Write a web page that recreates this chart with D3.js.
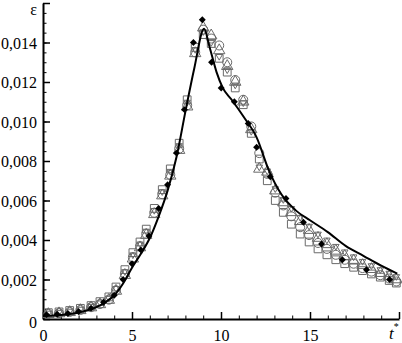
<!DOCTYPE html>
<html><head><meta charset="utf-8">
<script src="https://cdn.jsdelivr.net/npm/d3@7"></script>
<style>body{margin:0;background:#fff}svg{display:block}svg text{font-family:"Liberation Serif","Times New Roman","DejaVu Serif",serif}</style>
</head><body>
<svg id="c" width="402" height="343"></svg>
<script>
const xTicks = [0, 5, 10, 15];
const yTicks = [0, 0.002, 0.004, 0.006, 0.008, 0.010, 0.012, 0.014];
const yTickLabels = ["0", "0,002", "0,004", "0,006", "0,008", "0,010", "0,012", "0,014"];

const lineT = [0, 1, 2, 3, 3.5, 4, 4.5, 5, 5.5, 6, 6.5, 7, 7.5, 8, 8.5, 9.05, 9.35, 9.75, 10.1, 10.6, 11.3, 12.0, 12.7, 13.4, 14.2, 15.0, 16.0, 17.0, 18.0, 19.0, 19.9];
const lineE = [0.00015, 0.0002, 0.00033, 0.0006, 0.00085, 0.0012, 0.0018, 0.0026, 0.0033, 0.0041, 0.0052, 0.0065, 0.0082, 0.0105, 0.0127, 0.0147, 0.0138, 0.0125, 0.0117, 0.0111, 0.0102, 0.0092, 0.0075, 0.0063, 0.0055, 0.0050, 0.0044, 0.0037, 0.0032, 0.0027, 0.0023];

const diamondT = [0.2, 0.8, 1.4, 2.0, 2.7, 3.4, 4.0, 4.5, 5.0, 5.5, 5.95, 6.5, 7.0, 7.5, 7.95, 8.45, 8.95, 9.47, 10.01, 10.75, 11.53, 12.0, 12.77, 13.65, 14.63, 15.65, 16.82, 18.17, 19.47];
const diamondE = [0.00022, 0.00024, 0.00028, 0.00038, 0.00055, 0.00085, 0.0012, 0.0020, 0.0028, 0.0035, 0.0042, 0.0056, 0.0068, 0.0084, 0.0106, 0.0140, 0.01515, 0.0130, 0.0117, 0.0110, 0.0099, 0.0087, 0.0072, 0.0061, 0.0049, 0.0038, 0.0030, 0.0025, 0.0020];

const hollowT = [0.3, 0.9, 1.5, 2.1, 2.7, 3.2, 3.7, 4.1, 4.6, 5.05, 5.45, 5.8, 6.25, 6.7, 7.15, 7.65, 8.1, 8.55, 9.0, 9.45, 9.9, 10.35, 10.8, 11.25, 11.7, 12.15, 12.6, 13.05, 13.5, 13.95, 14.45, 14.95, 15.45, 15.95, 16.45, 16.95, 17.45, 17.95, 18.45, 18.95, 19.45, 19.85];
const circleE = [0.00026,0.00030,0.00036,0.00046,0.00060,0.00076,0.00098,0.00145,0.00228,0.00312,0.00368,0.00432,0.00538,0.00632,0.00730,0.00862,0.01082,0.01350,0.01465,0.01420,0.01385,0.01300,0.01210,0.01110,0.00975,0.00840,0.00735,0.00640,0.00575,0.00520,0.00465,0.00425,0.00385,0.00355,0.00325,0.00300,0.00280,0.00258,0.00240,0.00222,0.00205,0.00190];
const squareE = [0.00032,0.00036,0.00043,0.00054,0.00068,0.00088,0.00112,0.00162,0.00250,0.00336,0.00390,0.00455,0.00560,0.00655,0.00760,0.00890,0.01110,0.01375,0.01440,0.01395,0.01320,0.01250,0.01170,0.01085,0.00940,0.00810,0.00700,0.00600,0.00540,0.00480,0.00430,0.00390,0.00355,0.00325,0.00300,0.00280,0.00262,0.00245,0.00228,0.00212,0.00195,0.00182];
const triUpE = [0.00024,0.00028,0.00034,0.00044,0.00058,0.00074,0.00096,0.00142,0.00222,0.00305,0.00362,0.00425,0.00530,0.00625,0.00725,0.00855,0.01075,0.01345,0.01475,0.01435,0.01360,0.01280,0.01200,0.01100,0.00960,0.00760,0.00745,0.00650,0.00590,0.00540,0.00495,0.00450,0.00410,0.00378,0.00345,0.00318,0.00295,0.00272,0.00252,0.00232,0.00215,0.00200];
const triDownE = [0.00030,0.00034,0.00040,0.00050,0.00064,0.00082,0.00105,0.00155,0.00240,0.00325,0.00380,0.00445,0.00550,0.00645,0.00748,0.00878,0.01098,0.01365,0.01455,0.01400,0.01330,0.01262,0.01185,0.01095,0.00950,0.00770,0.00750,0.00660,0.00605,0.00560,0.00515,0.00470,0.00430,0.00400,0.00368,0.00340,0.00315,0.00292,0.00270,0.00250,0.00232,0.00215];

const svg = d3.select("#c");
const x = d3.scaleLinear().domain([0, 20]).range([43, 399]);
const y = d3.scaleLinear().domain([0, 0.016]).range([319, 3]);
const font = '"Liberation Serif","Times New Roman","DejaVu Serif",serif';

// minor ticks
svg.append("g").attr("transform", "translate(0,319)")
  .call(d3.axisBottom(x).tickValues(d3.range(0, 21, 1)).tickFormat("").tickSize(-3.5))
  .call(g => g.select(".domain").remove());
svg.append("g").attr("transform", "translate(43,0)")
  .call(d3.axisLeft(y).tickValues(d3.range(0, 0.01601, 0.0005)).tickFormat("").tickSize(-3.5))
  .call(g => g.select(".domain").remove());

// major
const xa = svg.append("g").attr("transform", "translate(0,319)")
  .call(d3.axisBottom(x).tickValues(xTicks.concat([20])).tickFormat(d => xTicks.includes(d) ? d : "").tickSize(-7).tickSizeOuter(0).tickPadding(11));
const ya = svg.append("g").attr("transform", "translate(43,0)")
  .call(d3.axisLeft(y).tickValues(yTicks.concat([0.016])).tickFormat(d => { const i = yTicks.indexOf(d); return i >= 0 ? yTickLabels[i] : ""; }).tickSize(-7).tickSizeOuter(0).tickPadding(6));
[xa, ya].forEach(g => {
  g.attr("font-family", null);
  g.select(".domain").attr("stroke-width", 2).attr("stroke", "#000");
  g.selectAll(".tick line").attr("stroke-width", 1.5);
  g.selectAll("text").style("font-family", font).attr("font-size", 16).attr("fill", "#000");
});
ya.selectAll("text").attr("dy", "0.35em");
ya.select(".tick text").attr("dy", "0.5em");
svg.selectAll("g .tick line").attr("stroke", "#000");

// hollow markers
const gray = "#6a6a6a";
function hollow(vals, type, size) {
  const sym = d3.symbol().type(type).size(size);
  svg.append("g").selectAll("path").data(hollowT.map((t, i) => [t, vals[i]])).join("path")
    .attr("transform", d => `translate(${x(d[0])},${y(d[1])})`)
    .attr("d", sym).attr("fill", "none").attr("stroke", gray).attr("stroke-width", 1);
}
hollow(squareE, d3.symbolSquare, 60);
hollow(circleE, d3.symbolCircle, 64);
hollow(triUpE, d3.symbolTriangle, 56);
const triDown = {draw(ctx, size) { const s = Math.sqrt(size / (3 * Math.sqrt(3) / 4)); const h = s * Math.sqrt(3) / 2; ctx.moveTo(-s / 2, -h / 3); ctx.lineTo(s / 2, -h / 3); ctx.lineTo(0, 2 * h / 3); ctx.closePath(); }};
hollow(triDownE, triDown, 56);

// line
svg.append("path").datum(lineT.map((t, i) => [t, lineE[i]]))
  .attr("d", d3.line().x(d => x(d[0])).y(d => y(d[1])).curve(d3.curveMonotoneX))
  .attr("fill", "none").attr("stroke", "#000").attr("stroke-width", 2);

// diamonds
svg.append("g").selectAll("path").data(diamondT.map((t, i) => [t, diamondE[i]])).join("path")
  .attr("transform", d => `translate(${x(d[0])},${y(d[1])}) rotate(45)`)
  .attr("d", d3.symbol().type(d3.symbolSquare).size(24)).attr("fill", "#000");

// axis titles
svg.append("text").attr("x", 37).attr("y", 15).attr("text-anchor", "end")
  .style("font-family", font).attr("font-size", 16).text("ε");
const tl = svg.append("text").attr("x", 389).attr("y", 339).style("font-family", font).attr("font-size", 17).attr("font-style", "italic");
tl.append("tspan").text("t");
tl.append("tspan").attr("font-size", 10).attr("dy", -9).attr("font-style", "normal").text("*");
</script>
</body></html>
